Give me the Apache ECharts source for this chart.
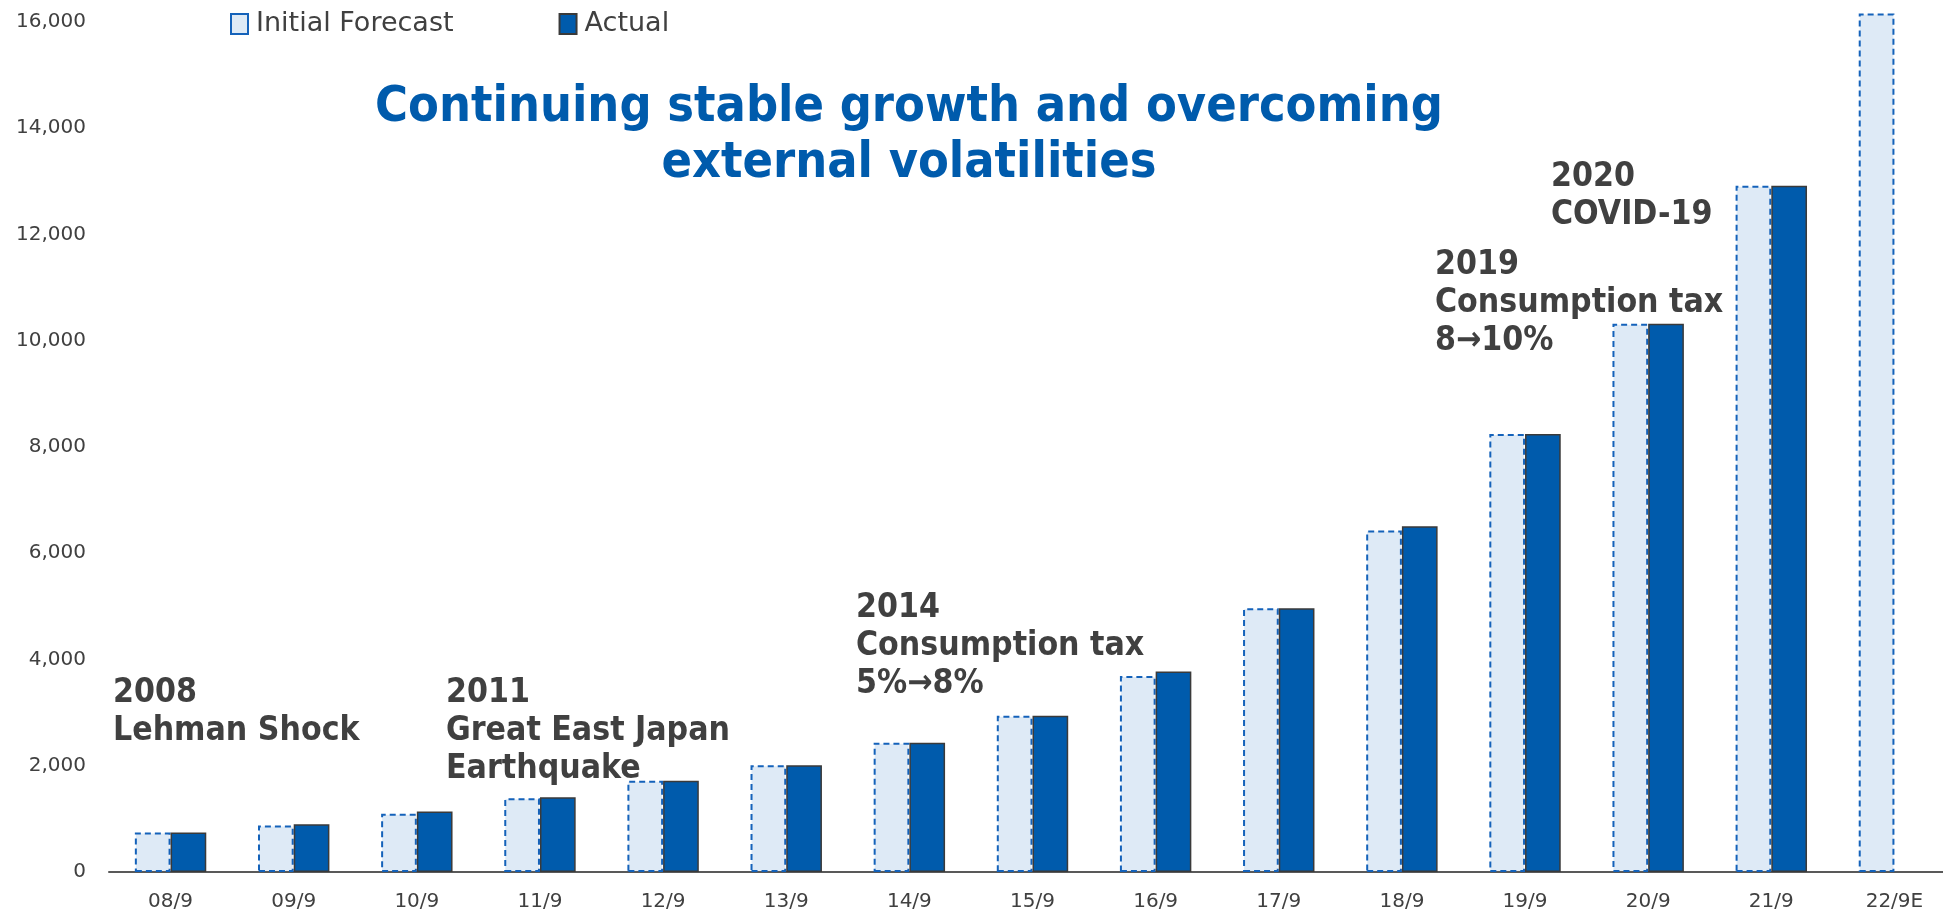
<!DOCTYPE html>
<html>
<head>
<meta charset="utf-8">
<title>Continuing stable growth and overcoming external volatilities</title>
<script src="https://cdn.jsdelivr.net/npm/echarts@6/dist/echarts.min.js"></script>
<style>
  html, body { margin: 0; padding: 0; background: #ffffff; overflow: hidden; }
  /* the plot runs past the right edge, so the canvas is a little wider than the page */
  #chart { width: 1966px; height: 913px; }
</style>
</head>
<body>
<div id="chart"></div>
<script>
// Fiscal years ending in September (22/9E is the forecast year)
const categories = ['08/9', '09/9', '10/9', '11/9', '12/9', '13/9', '14/9', '15/9',
                    '16/9', '17/9', '18/9', '19/9', '20/9', '21/9', '22/9E'];
const initialForecast = [745, 875, 1095, 1390, 1720, 2010, 2435, 2940,
                         3690, 4965, 6430, 8245, 10320, 12920, 16160];
const actual = [745, 900, 1140, 1408, 1720, 2010, 2435, 2940,
                3775, 4965, 6510, 8245, 10320, 12920, null];

const yTicks = { min: 0, max: 16000, interval: 2000 };

const titleLines = ['Continuing stable growth and overcoming', 'external volatilities'];

// Event notes: heading line followed by description lines
const eventNotes = [
  ['2008', 'Lehman Shock'],
  ['2011', 'Great East Japan', 'Earthquake'],
  ['2014', 'Consumption tax', '5%\u21928%'],
  ['2019', 'Consumption tax', '8\u219210%'],
  ['2020', 'COVID-19']
];
// where each note block starts (left x, centre y of first line)
const noteAnchors = [[113, 693], [446, 693], [856, 608], [1435, 265], [1551, 177]];

const TEXT = '#404040';
const BLUE = '#005BAC';
const CONDENSED = "'DejaVu Sans Condensed', 'DejaVu Sans', sans-serif";
const REGULAR = "'DejaVu Sans', sans-serif";

const graphics = [];
titleLines.forEach(function (line, i) {
  graphics.push({
    type: 'text', x: 909, y: 108 + i * 55.6, silent: true,
    style: {
      text: line, fill: BLUE, align: 'center', verticalAlign: 'middle',
      font: "bold 50px " + CONDENSED
    }
  });
});
eventNotes.forEach(function (lines, k) {
  lines.forEach(function (line, i) {
    graphics.push({
      type: 'text', x: noteAnchors[k][0], y: noteAnchors[k][1] + i * 38, silent: true,
      style: {
        text: line, fill: TEXT, align: 'left', verticalAlign: 'middle',
        font: "bold 33.5px " + CONDENSED
      }
    });
  });
});

const chart = echarts.init(document.getElementById('chart'), null, { renderer: 'canvas' });
chart.setOption({
  animation: false,
  backgroundColor: '#ffffff',
  legend: {
    data: ['Initial Forecast', 'Actual'],
    left: 225, top: 5,
    itemWidth: 17, itemHeight: 20, itemGap: 105,
    icon: 'rect',
    textStyle: { color: TEXT, fontSize: 27, fontFamily: REGULAR, lineHeight: 28, padding: [0, 0, 0, 3] }
  },
  grid: { left: 109, top: 22, width: 1847, bottom: 41, containLabel: false },
  xAxis: {
    type: 'category',
    data: categories,
    axisLine: { lineStyle: { color: '#595959', width: 2 } },
    axisTick: { length: 8, lineStyle: { color: '#595959', width: 1.5 } },
    axisLabel: { color: TEXT, fontSize: 20, fontFamily: REGULAR, margin: 20 }
  },
  yAxis: {
    type: 'value',
    min: yTicks.min, max: yTicks.max, interval: yTicks.interval,
    axisLine: { show: false },
    axisTick: { show: false },
    splitLine: { show: false },
    axisLabel: {
      color: TEXT, fontSize: 20, fontFamily: REGULAR, margin: 23,
      formatter: function (v) { return v.toLocaleString('en-US'); }
    }
  },
  series: [
    {
      name: 'Initial Forecast',
      type: 'bar',
      data: initialForecast,
      clip: false,
      barGap: '0%',
      barCategoryGap: '42%',
      itemStyle: {
        color: '#DEEAF6',
        borderColor: '#1462BA',
        borderWidth: 2,
        borderType: [6, 4]
      }
    },
    {
      name: 'Actual',
      type: 'bar',
      data: actual,
      clip: false,
      barGap: '0%',
      barCategoryGap: '42%',
      itemStyle: {
        color: BLUE,
        borderColor: '#3a3a3a',
        borderWidth: 1.5
      }
    }
  ],
  graphic: graphics
});
</script>
</body>
</html>
